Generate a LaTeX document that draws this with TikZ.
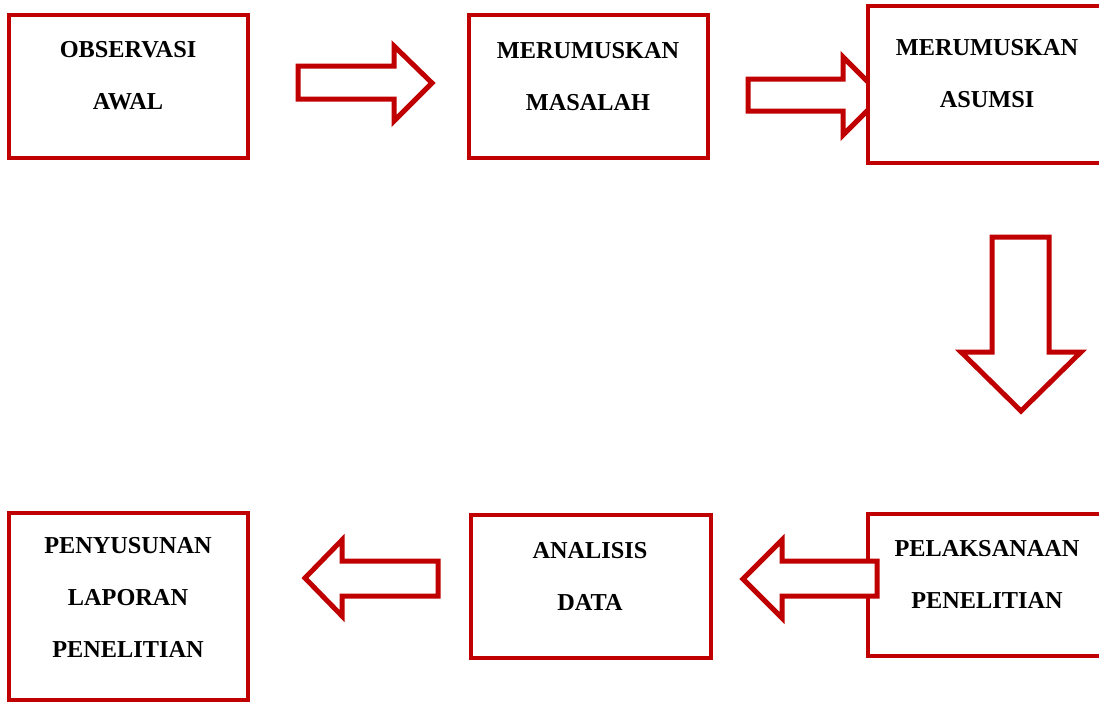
\documentclass[tikz,border=0pt]{standalone}
\usepackage{fontspec}
\setmainfont{Liberation Serif}
\definecolor{dred}{HTML}{C00000}
\begin{document}
\begin{tikzpicture}[x=1pt,y=-1pt,
  box/.style={draw=dred, line width=4.5pt, fill=white, inner sep=0pt, rectangle, line join=miter},
  lbl/.style={font=\fontsize{24.3}{52}\selectfont\bfseries, align=center, inner sep=0pt},
  barrow/.style={draw=dred, line width=5pt, fill=white, line join=miter}]
\useasboundingbox (0,0) rectangle (1099,702);
\clip (0,0) rectangle (1099,702);
% top row
\node[box, minimum width=239pt, minimum height=143pt] (b1) at (128.5,86.5) {};
\node[lbl] (t1) at (128,76) {OBSERVASI\\AWAL};
\node[box, minimum width=239pt, minimum height=143pt] (b2) at (588.5,86.5) {};
\node[lbl] (t2) at (588,76.5) {MERUMUSKAN\\MASALAH};
\draw[barrow] (298,66) -- (394,66) -- (394,46) -- (432,83) -- (394,121) -- (394,99) -- (298,99) -- cycle;
\draw[barrow] (748,79) -- (843,79) -- (843,57) -- (882,96) -- (843,135) -- (843,111) -- (748,111) -- cycle;
\node[box, minimum width=238pt, minimum height=157pt] (b3) at (987,84.5) {};
\node[lbl] (t3) at (987,74) {MERUMUSKAN\\ASUMSI};
% down arrow
\draw[barrow] (992,237) -- (1049,237) -- (1049,352) -- (1081,352) -- (1021,411) -- (961,352) -- (992,352) -- cycle;
% bottom row
\node[box, minimum width=238pt, minimum height=142pt] (b4) at (987,585) {};
\node[lbl] (t4) at (987,574.5) {PELAKSANAAN\\PENELITIAN};
\draw[barrow] (877,561) -- (782,561) -- (782,540) -- (743,579) -- (782,618) -- (782,596) -- (877,596) -- cycle;
\node[box, minimum width=240pt, minimum height=143pt] (b5) at (591,586.5) {};
\node[lbl] (t5) at (590,576) {ANALISIS\\DATA};
\draw[barrow] (438,561) -- (342,561) -- (342,540) -- (305,578) -- (342,616) -- (342,596) -- (438,596) -- cycle;
\node[box, minimum width=239pt, minimum height=187pt] (b6) at (128.5,606.5) {};
\node[lbl] (t6) at (128,597.5) {PENYUSUNAN\\LAPORAN\\PENELITIAN};
\end{tikzpicture}
\end{document}
